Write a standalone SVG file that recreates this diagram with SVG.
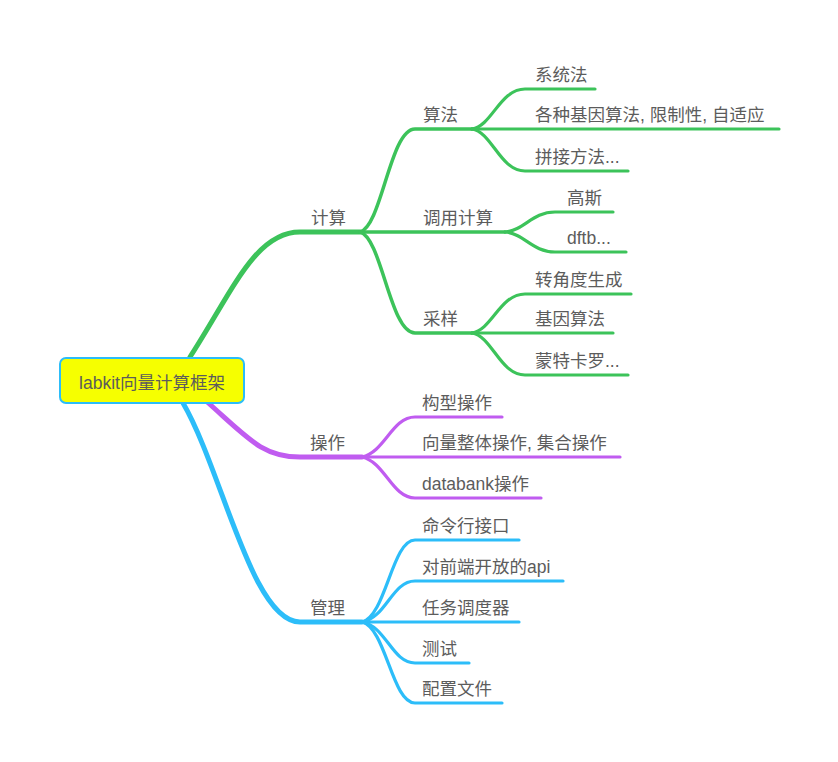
<svg xmlns="http://www.w3.org/2000/svg" width="838" height="762" viewBox="0 0 838 762">
<style>
text{font-family:"Liberation Sans","Noto Sans CJK SC",sans-serif;font-size:17.5px;fill:#5c5c5c}
.g{stroke:#3cc35a;fill:none;stroke-linecap:round}
.p{stroke:#c05cf0;fill:none;stroke-linecap:round}
.b{stroke:#2cbdf9;fill:none;stroke-linecap:round}
.m{stroke-width:5}
.s{stroke-width:3.5}
.l{stroke-width:3.2}
</style>
<rect width="838" height="762" fill="#fff"/>
<g id="connectors">
<path class="g m" d="M190,357 C232,292 255,232 300,232 L360,232"/>
<path class="p m" d="M205,400 C248,438 262,457 300,457 L362,457"/>
<path class="b m" d="M183,403 C222,470 252,622 300,622 L362,622"/>
<path class="g s" d="M360,232 C382,226 390,129 415,129 L472,129"/>
<path class="g s" d="M360,232 L505,232"/>
<path class="g s" d="M360,232 C382,238 390,333 415,333 L472,333"/>
<path class="g l" d="M472,129 C492,126 500,89 525,89 L595,89"/>
<path class="g l" d="M472,129 L779,129"/>
<path class="g l" d="M472,129 C492,132 500,171 525,171 L628,171"/>
<path class="g l" d="M505,232 C525,230 532,212 555,212 L613,212"/>
<path class="g l" d="M505,232 C525,234 532,252 555,252 L626,252"/>
<path class="g l" d="M472,333 C492,330 500,294 525,294 L631,294"/>
<path class="g l" d="M472,333 L613,333"/>
<path class="g l" d="M472,333 C492,336 500,375 525,375 L628,375"/>
<path class="p l" d="M362,457 C385,452 392,417 415,417 L502,417"/>
<path class="p l" d="M362,457 L620,457"/>
<path class="p l" d="M362,457 C385,462 392,498 415,498 L541,498"/>
<path class="b l" d="M362,622 C386,616 392,540 415,540 L519,540"/>
<path class="b l" d="M362,622 C386,618 392,581 415,581 L563,581"/>
<path class="b l" d="M362,622 L519,622"/>
<path class="b l" d="M362,622 C386,626 392,663 415,663 L469,663"/>
<path class="b l" d="M362,622 C386,628 392,703 415,703 L502,703"/>
</g>
<g id="root">
<rect x="60" y="358" width="184" height="45" rx="6" fill="#f6ff00" stroke="#2cbdf9" stroke-width="2"/>
<text x="152" y="389" text-anchor="middle">labkit向量计算框架</text>
</g>
<g id="n-jisuan"><text x="311" y="224">计算</text></g>
<g id="n-suanfa"><text x="423" y="121">算法</text></g>
<g id="n-diaoyong"><text x="423" y="224">调用计算</text></g>
<g id="n-caiyang"><text x="423" y="325">采样</text></g>
<g id="n-xitong"><text x="535" y="81">系统法</text></g>
<g id="n-gezhong"><text x="535" y="121">各种基因算法, 限制性, 自适应</text></g>
<g id="n-pinjie"><text x="535" y="163">拼接方法...</text></g>
<g id="n-gaosi"><text x="567" y="204">高斯</text></g>
<g id="n-dftb"><text x="567" y="244">dftb...</text></g>
<g id="n-zhuan"><text x="535" y="286">转角度生成</text></g>
<g id="n-jiyin"><text x="535" y="325">基因算法</text></g>
<g id="n-mengte"><text x="535" y="367">蒙特卡罗...</text></g>
<g id="n-caozuo"><text x="310" y="449">操作</text></g>
<g id="n-gouxing"><text x="422" y="409">构型操作</text></g>
<g id="n-xiangliang"><text x="422" y="449">向量整体操作, 集合操作</text></g>
<g id="n-databank"><text x="422" y="490">databank操作</text></g>
<g id="n-guanli"><text x="310" y="614">管理</text></g>
<g id="n-mingling"><text x="422" y="532">命令行接口</text></g>
<g id="n-api"><text x="422" y="573">对前端开放的api</text></g>
<g id="n-renwu"><text x="422" y="614">任务调度器</text></g>
<g id="n-ceshi"><text x="422" y="655">测试</text></g>
<g id="n-peizhi"><text x="422" y="695">配置文件</text></g>
</svg>
